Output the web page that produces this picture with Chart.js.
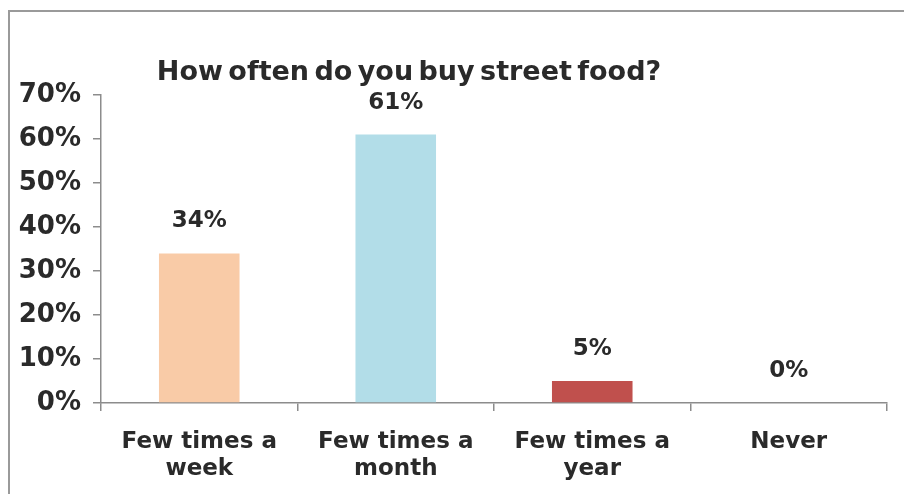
<!DOCTYPE html>
<html>
<head>
<meta charset="utf-8">
<script src="https://cdn.jsdelivr.net/npm/chart.js@4.4.1/dist/chart.umd.min.js"></script>
<style>
  html, body { margin: 0; padding: 0; background: #fff; }
  #wrap { position: relative; width: 904px; height: 494px; }
  #frame { position: absolute; left: 8px; top: 10px; width: 910px; height: 500px; border: 2px solid #9a9a9a; box-sizing: border-box; }
  canvas { position: absolute; left: 0; top: 0; }
</style>
</head>
<body>
<div id="wrap">
  <div id="frame"></div>
  <canvas id="c" width="904" height="494"></canvas>
</div>
<script>
const titleText = "How often do you buy street food?";
const categories = [["Few times a", "week"], ["Few times a", "month"], ["Few times a", "year"], ["Never"]];
const values = [34, 61, 5, 0];
const valueLabels = ["34%", "61%", "5%", "0%"];
const yTicks = [0, 10, 20, 30, 40, 50, 60, 70];
const barColors = ["#F9CBA7", "#B2DDE8", "#C0504D", "#7F7F7F"];

const FONT = "'DejaVu Sans', 'Liberation Sans', sans-serif";
const TEXT = '#2a2a2a';

const overlay = {
  id: 'overlay',
  afterDatasetsDraw(chart) {
    const ctx = chart.ctx;
    const meta = chart.getDatasetMeta(0);
    ctx.save();
    ctx.fillStyle = TEXT;
    ctx.font = "bold 23px " + FONT;
    ctx.textAlign = 'center';
    ctx.textBaseline = 'middle';
    meta.data.forEach((bar, i) => {
      ctx.fillText(valueLabels[i], bar.x, bar.y - 32);
    });
    ctx.font = "bold 27px " + FONT;
    try { ctx.wordSpacing = '-4px'; } catch (e) {}
    ctx.fillText(titleText, 409, 73);
    ctx.restore();
  }
};

new Chart(document.getElementById('c'), {
  type: 'bar',
  data: {
    labels: categories,
    datasets: [{
      data: values,
      backgroundColor: barColors,
      borderWidth: 0,
      barPercentage: 0.82,
      categoryPercentage: 0.5
    }]
  },
  options: {
    responsive: false,
    animation: false,
    devicePixelRatio: 1,
    layout: { padding: { top: 95, right: 17, left: 0, bottom: 0 } },
    plugins: { legend: { display: false }, tooltip: { enabled: false }, title: { display: false } },
    scales: {
      y: {
        min: 0, max: 70,
        afterBuildTicks(scale) { scale.ticks = yTicks.map(v => ({ value: v })); },
        afterFit(scale) { scale.width = 101; },
        border: { color: '#8c8c8c', width: 1.5 },
        grid: { drawOnChartArea: false, tickLength: 8, color: '#8c8c8c', lineWidth: 1.5 },
        ticks: {
          color: TEXT, padding: 12,
          font: { family: FONT, size: 26, weight: 'bold' },
          callback: v => v + '%'
        }
      },
      x: {
        afterFit(scale) { scale.height = 91; },
        border: { color: '#8c8c8c', width: 1.5 },
        grid: { drawOnChartArea: false, tickLength: 8, color: '#8c8c8c', lineWidth: 1.5, offset: true },
        ticks: {
          color: TEXT, padding: 18, maxRotation: 0,
          font: { family: FONT, size: 23, weight: 'bold', lineHeight: 1.15 }
        }
      }
    }
  },
  plugins: [overlay]
});
</script>
</body>
</html>
